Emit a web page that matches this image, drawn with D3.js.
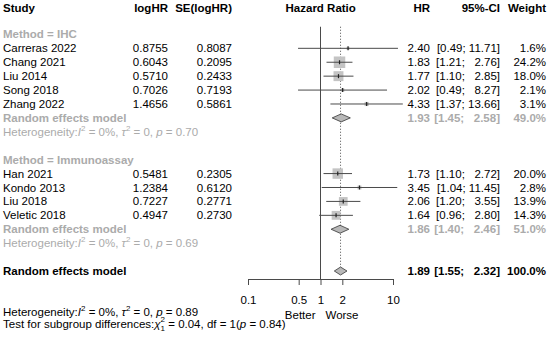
<!DOCTYPE html>
<html>
<head>
<meta charset="utf-8">
<script src="https://cdn.jsdelivr.net/npm/d3@7"></script>
<style>
body { margin: 0; background: #fff; }
svg { display: block; font-family: "Liberation Sans", Arial, Helvetica, sans-serif; font-size: 11.5px; }
text { white-space: pre; }
</style>
</head>
<body>
<svg></svg>
<script>
var width = 550
var height = 338

// study rows (row index in the forest layout)
var studyNames = ['Carreras 2022', 'Chang 2021', 'Liu 2014', 'Song 2018', 'Zhang 2022',
	'Han 2021', 'Kondo 2013', 'Liu 2018', 'Veletic 2018']
var studyRows = [1, 2, 3, 4, 5, 10, 11, 12, 13]
var logHR = ['0.8755', '0.6043', '0.5710', '0.7026', '1.4656', '0.5481', '1.2384', '0.7227', '0.4947']
var seLogHR = ['0.8087', '0.2095', '0.2433', '0.7193', '0.5861', '0.2305', '0.6120', '0.2771', '0.2730']
var hr = [2.40, 1.83, 1.77, 2.02, 4.33, 1.73, 3.45, 2.06, 1.64]
var lower = [0.49, 1.21, 1.10, 0.49, 1.37, 1.10, 1.04, 1.20, 0.96]
var upper = [11.71, 2.76, 2.85, 8.27, 13.66, 2.72, 11.45, 3.55, 2.80]
var weight = [1.6, 24.2, 18.0, 2.1, 3.1, 20.0, 2.8, 13.9, 14.3]

// subgroup + overall summaries
var groupNames = ['Method = IHC', 'Method = Immunoassay']
var groupRows = [0, 9]
var poolRows = [6, 14, 17]
var poolHR = [1.93, 1.86, 1.89]
var poolLower = [1.45, 1.40, 1.55]
var poolUpper = [2.58, 2.46, 2.32]
var poolWeight = ['49.0%', '51.0%', '100.0%']
var hetRows = [7, 15]
var hetP = ['0.70', '0.69']

var tickValues = [0.1, 0.5, 1, 2, 10]

var grey = '#ababab'
var lineCol = '#4a4a4a'

var svg = d3.select('svg').attr('width', width).attr('height', height)

var y = d3.scaleLinear().domain([0, 17]).range([34.4, 271])
var x = d3.scaleLog().domain([0.1, 10]).range([248, 393])
var box = d3.scaleSqrt().domain([0, 24.2]).range([0, 11.5])

function fmt(v) { return v.toFixed(2) }
function ci(l, u) {
	var a = fmt(l), b = fmt(u)
	return '[' + a + '; ' + (b.length < 5 ? '  ' : '') + b + ']'
}

// header
var header = svg.append('g').attr('font-weight', 'bold')
var headY = y(-1.88)
var heads = [['Study', 3, 'start'], ['logHR', 168, 'end'], ['SE(logHR)', 232, 'end'],
	['Hazard Ratio', 320.7, 'middle'], ['HR', 430, 'end'], ['95%-CI', 500, 'end'], ['Weight', 546, 'end']]
header.selectAll('text').data(heads).enter().append('text')
	.attr('x', function(d) {return d[1]})
	.attr('y', headY)
	.attr('dy', '0.35em')
	.attr('text-anchor', function(d) {return d[2]})
	.text(function(d) {return d[0]})

// reference lines
svg.append('line')
	.attr('x1', x(1)).attr('x2', x(1))
	.attr('y1', y(-0.55)).attr('y2', y(17) + 8)
	.attr('stroke', lineCol).attr('stroke-width', 1)

svg.append('line')
	.attr('x1', x(poolHR[2])).attr('x2', x(poolHR[2]))
	.attr('y1', y(-0.55)).attr('y2', y(17) - 4)
	.attr('stroke', lineCol).attr('stroke-width', 1)
	.attr('stroke-dasharray', '1,2')

// subgroup titles
svg.selectAll('.grp').data(groupNames).enter().append('text')
	.attr('class', 'grp')
	.attr('x', 3)
	.attr('y', function(d, i) {return y(groupRows[i])})
	.attr('dy', '0.35em')
	.attr('fill', grey).attr('font-weight', 'bold')
	.text(function(d) {return d})

// study text columns
var rows = svg.append('g').selectAll('g').data(studyNames).enter().append('g')
	.attr('transform', function(d, i) {return 'translate(0,' + y(studyRows[i]) + ')'})

rows.append('text').attr('x', 3).attr('dy', '0.35em').text(function(d) {return d})
rows.append('text').attr('x', 168).attr('dy', '0.35em').attr('text-anchor', 'end').text(function(d, i) {return logHR[i]})
rows.append('text').attr('x', 232).attr('dy', '0.35em').attr('text-anchor', 'end').text(function(d, i) {return seLogHR[i]})
rows.append('text').attr('x', 430).attr('dy', '0.35em').attr('text-anchor', 'end').text(function(d, i) {return fmt(hr[i])})
rows.append('text').attr('x', 500).attr('dy', '0.35em').attr('text-anchor', 'end').text(function(d, i) {return ci(lower[i], upper[i])})
rows.append('text').attr('x', 546).attr('dy', '0.35em').attr('text-anchor', 'end').text(function(d, i) {return weight[i].toFixed(1) + '%'})

// squares, CI lines, point ticks
rows.append('rect')
	.attr('x', function(d, i) {return x(hr[i]) - box(weight[i]) / 2})
	.attr('y', function(d, i) {return -box(weight[i]) / 2})
	.attr('width', function(d, i) {return box(weight[i])})
	.attr('height', function(d, i) {return box(weight[i])})
	.attr('fill', '#c4c4c4')

rows.append('line')
	.attr('x1', function(d, i) {return x(lower[i])})
	.attr('x2', function(d, i) {return x(upper[i])})
	.attr('stroke', lineCol).attr('stroke-width', 1)

rows.append('line')
	.attr('x1', function(d, i) {return x(hr[i])})
	.attr('x2', function(d, i) {return x(hr[i])})
	.attr('y1', -2).attr('y2', 2)
	.attr('stroke', '#222').attr('stroke-width', 1.2)

// pooled rows
var pools = svg.append('g').selectAll('g').data(poolHR).enter().append('g')
	.attr('transform', function(d, i) {return 'translate(0,' + y(poolRows[i]) + ')'})
	.attr('fill', function(d, i) {return i < 2 ? grey : '#000'})
	.attr('font-weight', 'bold')

pools.append('text').attr('x', 3).attr('dy', '0.35em').text('Random effects model')
pools.append('text').attr('x', 430).attr('dy', '0.35em').attr('text-anchor', 'end').text(function(d) {return fmt(d)})
pools.append('text').attr('x', 500).attr('dy', '0.35em').attr('text-anchor', 'end').text(function(d, i) {return ci(poolLower[i], poolUpper[i])})
pools.append('text').attr('x', 546).attr('dy', '0.35em').attr('text-anchor', 'end').text(function(d, i) {return poolWeight[i]})

pools.append('path')
	.attr('d', function(d, i) {
		return 'M' + x(poolLower[i]) + ',0L' + x(d) + ',-4L' + x(poolUpper[i]) + ',0L' + x(d) + ',4Z'
	})
	.attr('fill', '#b8b8b8').attr('stroke', '#333').attr('stroke-width', 0.8)

// heterogeneity lines
function hetText(sel, p) {
	sel.append('tspan').text('Heterogeneity:')
	sel.append('tspan').attr('font-style', 'italic').text('I')
	sel.append('tspan').attr('font-size', '8px').attr('dy', -5).text('2')
	sel.append('tspan').attr('dy', 5).text(' = 0%, ')
	sel.append('tspan').attr('font-style', 'italic').text('\u03c4')
	sel.append('tspan').attr('font-size', '8px').attr('dy', -5).text('2')
	sel.append('tspan').attr('dy', 5).text(' = 0, ')
	sel.append('tspan').attr('font-style', 'italic').text('p')
	sel.append('tspan').text(' = ' + p)
}

svg.selectAll('.het').data(hetP).enter().append('text')
	.attr('class', 'het')
	.attr('x', 3)
	.attr('y', function(d, i) {return y(hetRows[i])})
	.attr('dy', '0.35em')
	.attr('fill', grey)
	.each(function(d) {hetText(d3.select(this), d)})

// axis
var axisY = y(17) + 8
var axis = svg.append('g')
	.attr('transform', 'translate(0,' + axisY + ')')
	.call(d3.axisBottom(x).tickValues(tickValues).tickFormat(d3.format('')).tickSize(6).tickSizeOuter(0).tickPadding(11))
axis.select('.domain').attr('stroke', lineCol)
axis.selectAll('.tick line').attr('stroke', lineCol)
axis.selectAll('.tick text').attr('fill', '#000').attr('font-size', '11.5px').attr('font-family', null)

svg.append('text').attr('x', x(1) - 5).attr('y', axisY + 40).attr('text-anchor', 'end').text('Better')
svg.append('text').attr('x', x(1) + 5).attr('y', axisY + 40).text('Worse')

// overall heterogeneity + subgroup test
var het3 = svg.append('text').attr('x', 3).attr('y', 316)
hetText(het3, '0.89')

var test = svg.append('text').attr('x', 3).attr('y', 327.5)
test.append('tspan').text('Test for subgroup differences:')
test.append('tspan').attr('font-style', 'italic').text('\u03c7')
var chiX = 3 + test.node().getComputedTextLength()
test.append('tspan').attr('font-size', '8px').attr('x', chiX).attr('dy', -6).text('2')
test.append('tspan').attr('font-size', '8px').attr('x', chiX).attr('dy', 9).text('1')
test.append('tspan').attr('dy', -3).text(' = 0.04, df = 1(')
test.append('tspan').attr('font-style', 'italic').text('p')
test.append('tspan').text(' = 0.84)')
</script>
</body>
</html>
